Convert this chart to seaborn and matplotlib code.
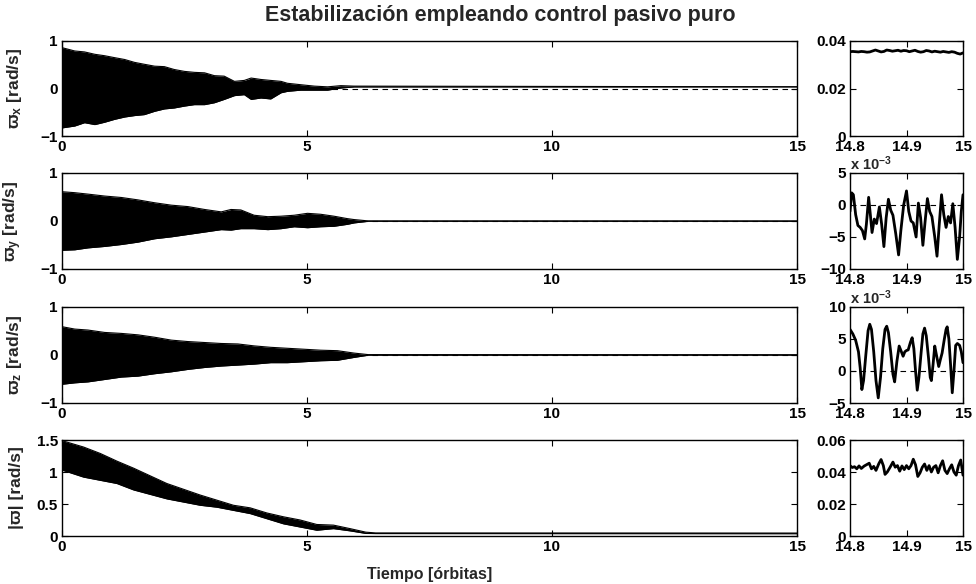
import matplotlib
matplotlib.use("Agg")
import matplotlib.pyplot as plt
import pandas as pd
import seaborn as sns

# ---- envelopes of the angular-velocity components over the full run [orbits, rad/s]
t_wx = [0.0, 0.26, 0.46, 0.67, 0.87, 1.07, 1.28, 1.48, 1.68, 1.89, 2.09, 2.29, 2.50, 2.70, 2.91,
        3.11, 3.31, 3.52, 3.72, 3.86, 4.06, 4.26, 4.47, 4.60, 4.87, 5.15, 5.42, 5.69, 5.96, 15.0]
wx_upper = [0.86, 0.79, 0.77, 0.72, 0.69, 0.65, 0.61, 0.55, 0.51, 0.47, 0.46, 0.40, 0.36, 0.34, 0.33,
            0.27, 0.26, 0.15, 0.17, 0.22, 0.19, 0.17, 0.15, 0.11, 0.08, 0.05, 0.035, 0.06, 0.05, 0.036]
wx_lower = [-0.83, -0.79, -0.72, -0.76, -0.71, -0.65, -0.60, -0.57, -0.55, -0.48, -0.43, -0.41, -0.37, -0.34, -0.34,
            -0.30, -0.23, -0.15, -0.13, -0.23, -0.20, -0.22, -0.09, -0.06, -0.035, -0.035, -0.035, 0.01, 0.033, 0.034]

t_wy = [0.0, 0.26, 0.53, 0.87, 1.21, 1.55, 1.89, 2.23, 2.57, 2.91, 3.25, 3.45, 3.65, 3.92, 4.20,
        4.47, 4.74, 5.01, 5.28, 5.55, 5.82, 5.96, 6.25, 15.0]
wy_upper = [0.61, 0.59, 0.56, 0.52, 0.49, 0.44, 0.38, 0.33, 0.30, 0.24, 0.19, 0.24, 0.23, 0.12, 0.09,
            0.10, 0.12, 0.16, 0.14, 0.10, 0.05, 0.03, 0.002, 0.002]
wy_lower = [-0.61, -0.60, -0.56, -0.53, -0.49, -0.44, -0.37, -0.33, -0.28, -0.23, -0.18, -0.19, -0.16, -0.16, -0.18,
            -0.16, -0.12, -0.14, -0.12, -0.11, -0.07, -0.04, -0.006, -0.006]

t_wz = [0.0, 0.26, 0.53, 0.87, 1.21, 1.55, 1.89, 2.23, 2.57, 2.91, 3.25, 3.59, 3.92, 4.26, 4.60,
        4.94, 5.28, 5.62, 5.96, 6.25, 15.0]
wz_upper = [0.59, 0.54, 0.52, 0.47, 0.45, 0.42, 0.37, 0.31, 0.28, 0.26, 0.24, 0.23, 0.19, 0.16, 0.14,
            0.12, 0.10, 0.09, 0.04, 0.008, 0.006]
wz_lower = [-0.61, -0.58, -0.56, -0.51, -0.46, -0.44, -0.39, -0.35, -0.30, -0.26, -0.23, -0.21, -0.19, -0.16, -0.16,
            -0.14, -0.12, -0.11, -0.05, -0.004, -0.003]

t_wn = [0.0, 0.44, 0.78, 1.12, 1.46, 1.80, 2.14, 2.48, 2.82, 3.16, 3.50, 3.84, 4.18, 4.52, 4.86,
        5.20, 5.54, 5.88, 6.20, 6.40, 15.0]
wn_upper = [1.49, 1.39, 1.29, 1.17, 1.06, 0.94, 0.82, 0.73, 0.64, 0.56, 0.48, 0.44, 0.36, 0.30, 0.25,
            0.18, 0.17, 0.115, 0.06, 0.048, 0.046]
wn_lower = [1.03, 0.92, 0.87, 0.82, 0.72, 0.65, 0.58, 0.53, 0.48, 0.45, 0.40, 0.35, 0.27, 0.19, 0.14,
            0.09, 0.115, 0.08, 0.04, 0.038, 0.036]

# ---- detail of the last 0.2 orbits
tz_wx = [14.800, 14.805, 14.810, 14.815, 14.820, 14.825, 14.830, 14.835, 14.840, 14.845, 14.850,
         14.855, 14.860, 14.865, 14.870, 14.875, 14.880, 14.885, 14.890, 14.895, 14.900, 14.905,
         14.910, 14.915, 14.920, 14.925, 14.930, 14.935, 14.940, 14.945, 14.950, 14.955, 14.960,
         14.965, 14.970, 14.975, 14.980, 14.985, 14.990, 14.995, 15.000]
wx_zoom = [0.0355, 0.0356, 0.0355, 0.0354, 0.0356, 0.0355, 0.0353, 0.0354, 0.0358, 0.0362, 0.0358,
           0.0354, 0.0356, 0.0362, 0.0360, 0.0357, 0.0359, 0.0361, 0.0357, 0.0360, 0.0359, 0.0355,
           0.0358, 0.0361, 0.0356, 0.0353, 0.0355, 0.0360, 0.0358, 0.0354, 0.0357, 0.0355, 0.0353,
           0.0356, 0.0354, 0.0352, 0.0355, 0.0353, 0.0348, 0.0345, 0.0350]

tz_wy = [14.800, 14.803, 14.806, 14.810, 14.814, 14.818, 14.822, 14.826, 14.829, 14.833, 14.836,
         14.839, 14.843, 14.847, 14.852, 14.856, 14.860, 14.864, 14.868, 14.872, 14.876, 14.881,
         14.886, 14.890, 14.895, 14.900, 14.904, 14.908, 14.912, 14.917, 14.921, 14.925, 14.929,
         14.933, 14.937, 14.941, 14.945, 14.950, 14.954, 14.958, 14.962, 14.966, 14.970, 14.974,
         14.978, 14.982, 14.986, 14.990, 14.994, 14.997, 15.000]
wy_zoom_milli = [-1.0, 1.9, 1.6, -1.5, -3.2, -3.5, -4.0, -5.3, -3.0, 1.2, -1.5,
                 -4.3, -2.2, -2.9, -0.3, -3.0, -6.5, -2.0, 0.9, -0.8, -1.6, -4.5,
                 -7.8, -4.0, 0.0, 2.2, -1.0, -2.5, -2.8, -5.0, 0.3, -2.0, -6.3,
                 -2.5, 1.0, -1.0, -1.8, -5.0, -8.0, -3.0, 1.6, -1.5, -3.5, -1.8,
                 -2.8, 0.2, -3.5, -8.5, -5.0, -1.0, 1.6]

tz_wz = [14.800, 14.805, 14.810, 14.815, 14.818, 14.821, 14.824, 14.828, 14.832, 14.835, 14.838,
         14.842, 14.846, 14.850, 14.854, 14.858, 14.862, 14.865, 14.868, 14.872, 14.876, 14.879,
         14.883, 14.887, 14.891, 14.894, 14.897, 14.900, 14.903, 14.907, 14.910, 14.913, 14.916,
         14.919, 14.922, 14.926, 14.929, 14.932, 14.935, 14.939, 14.942, 14.944, 14.947, 14.950,
         14.953, 14.957, 14.960, 14.963, 14.967, 14.970, 14.972, 14.975, 14.978, 14.981, 14.984,
         14.987, 14.990, 14.994, 14.997, 15.000]
wz_zoom_milli = [6.5, 5.8, 4.8, 3.0, 0.5, -2.9, -1.5, 2.5, 6.3, 7.3, 6.5,
                 3.0, -1.5, -4.2, -1.0, 3.5, 6.5, 7.0, 6.0, 3.0, -0.5, -1.7,
                 1.5, 3.9, 3.0, 2.3, 3.0, 3.2, 3.3, 4.5, 5.2, 3.5, 0.0,
                 -3.0, -1.0, 3.0, 5.8, 6.7, 5.5, 2.0, -1.0, -1.5, 1.0, 3.9,
                 2.5, 0.7, 1.8, 2.8, 5.0, 6.5, 6.9, 5.0, 1.0, -3.4, 0.0,
                 4.0, 4.3, 4.0, 3.0, 1.3]

tz_wn = [14.800, 14.804, 14.808, 14.812, 14.816, 14.820, 14.825, 14.830, 14.834, 14.838, 14.842,
         14.846, 14.851, 14.855, 14.859, 14.862, 14.866, 14.871, 14.876, 14.880, 14.884, 14.888,
         14.892, 14.896, 14.900, 14.904, 14.908, 14.912, 14.916, 14.920, 14.924, 14.928, 14.932,
         14.936, 14.940, 14.944, 14.948, 14.952, 14.956, 14.960, 14.964, 14.968, 14.972, 14.976,
         14.980, 14.984, 14.988, 14.992, 14.996, 15.000]
wn_zoom = [0.0440, 0.0428, 0.0433, 0.0420, 0.0438, 0.0422, 0.0437, 0.0447, 0.0455, 0.0420, 0.0435,
           0.0410, 0.0452, 0.0478, 0.0440, 0.0385, 0.0400, 0.0430, 0.0462, 0.0430, 0.0440, 0.0405,
           0.0438, 0.0415, 0.0440, 0.0420, 0.0440, 0.0480, 0.0445, 0.0372, 0.0395, 0.0430, 0.0450,
           0.0410, 0.0440, 0.0400, 0.0430, 0.0440, 0.0395, 0.0440, 0.0470, 0.0410, 0.0390, 0.0420,
           0.0445, 0.0400, 0.0380, 0.0440, 0.0475, 0.0380]

main_xticks = [0, 5, 10, 15]
zoom_xticks = [14.8, 14.9, 15.0]
zoom_xticklabels = ["14.8", "14.9", "15"]

sns.set_theme(style="ticks")
plt.rcParams["font.family"] = ["Liberation Sans", "DejaVu Sans"]
plt.rcParams["font.weight"] = "bold"
plt.rcParams["axes.labelweight"] = "bold"
plt.rcParams["mathtext.fontset"] = "custom"
plt.rcParams["mathtext.bf"] = "Liberation Sans:bold"
plt.rcParams["mathtext.rm"] = "Liberation Sans:bold"
plt.rcParams["mathtext.default"] = "bf"
plt.rcParams["axes.unicode_minus"] = True

W, H = 976, 584
fig = plt.figure(figsize=(W / 100, H / 100), dpi=100)

rows_px = [(41, 136), (173, 269), (307, 403), (440, 536)]
main_l, main_r = 62, 797
zoom_l, zoom_r = 850, 963
TICK_FS = 11


def make_axes(l, r, top, bot):
    return fig.add_axes([l / W, 1 - bot / H, (r - l) / W, (bot - top) / H])


def style(ax):
    for s in ax.spines.values():
        s.set_linewidth(1.0)
        s.set_color("black")
    ax.tick_params(direction="in", top=True, right=True, length=4, width=0.8,
                   labelsize=TICK_FS, pad=3, colors="black")
    for lab in ax.get_xticklabels() + ax.get_yticklabels():
        lab.set_fontweight("bold")


envelopes = [
    (t_wx, wx_upper, wx_lower),
    (t_wy, wy_upper, wy_lower),
    (t_wz, wz_upper, wz_lower),
    (t_wn, wn_upper, wn_lower),
]
ylabels = [r"ϖ$_{\mathbf{x}}$ [rad/s]", r"ϖ$_{\mathbf{y}}$ [rad/s]",
           r"ϖ$_{\mathbf{z}}$ [rad/s]", "|ϖ| [rad/s]"]

for i, ((top, bot), (t, up, lo)) in enumerate(zip(rows_px, envelopes)):
    ax = make_axes(main_l, main_r, top, bot)
    df = pd.DataFrame({"t": t, "upper": up, "lower": lo})
    if i < 3:
        ax.axhline(0, color="black", lw=0.8, ls=(0, (5, 4)), zorder=1)
    ax.fill_between(df["t"], df["lower"], df["upper"], color="black", lw=0, zorder=2)
    sns.lineplot(data=df, x="t", y="upper", ax=ax, color="black", lw=0.8,
                 sort=False, estimator=None, zorder=3)
    sns.lineplot(data=df, x="t", y="lower", ax=ax, color="black", lw=0.8,
                 sort=False, estimator=None, zorder=3)
    ax.set_xlim(0, 15)
    ax.set_xticks(main_xticks)
    ax.set_xticklabels([str(v) for v in main_xticks])
    if i < 3:
        ax.set_ylim(-1, 1)
        ax.set_yticks([-1, 0, 1])
        ax.set_yticklabels(["\u22121", "0", "1"])
    else:
        ax.set_ylim(0, 1.5)
        ax.set_yticks([0, 0.5, 1, 1.5])
        ax.set_yticklabels(["0", "0.5", "1", "1.5"])
    ax.set_xlabel("")
    ax.set_ylabel(ylabels[i], fontsize=12.5, fontweight="bold")
    ax.yaxis.set_label_coords(-0.052, 0.5)
    style(ax)
    if i == 3:
        ax.set_xlabel("Tiempo [órbitas]", fontsize=11.5, fontweight="bold", labelpad=9)

zooms = [
    (tz_wx, wx_zoom, (0, 0.04), [0, 0.02, 0.04], ["0", "0.02", "0.04"], False, False),
    (tz_wy, wy_zoom_milli, (-10, 5), [-10, -5, 0, 5], ["\u221210", "\u22125", "0", "5"], True, True),
    (tz_wz, wz_zoom_milli, (-5, 10), [-5, 0, 5, 10], ["\u22125", "0", "5", "10"], True, True),
    (tz_wn, wn_zoom, (0, 0.06), [0, 0.02, 0.04, 0.06], ["0", "0.02", "0.04", "0.06"], False, False),
]

for (top, bot), (t, v, ylim, yt, ytl, zero_line, milli) in zip(rows_px, zooms):
    ax = make_axes(zoom_l, zoom_r, top, bot)
    if zero_line:
        ax.axhline(0, color="black", lw=0.8, ls=(0, (5, 4)), zorder=1)
    sns.lineplot(x=t, y=v, ax=ax, color="black", lw=2.0, sort=False, estimator=None, zorder=3)
    ax.set_xlim(14.8, 15.0)
    ax.set_ylim(*ylim)
    ax.set_xticks(zoom_xticks)
    ax.set_xticklabels(zoom_xticklabels)
    ax.set_yticks(yt)
    ax.set_yticklabels(ytl)
    ax.set_xlabel("")
    ax.set_ylabel("")
    style(ax)
    if milli:
        ax.text(0.0, 1.0, r"x 10$^{-3}$", transform=ax.transAxes, ha="left", va="bottom",
                fontsize=10.5, fontweight="bold")

fig.text(500 / W, 1 - 15 / H, "Estabilización empleando control pasivo puro",
         ha="center", va="center", fontsize=15.5, fontweight="bold")

fig.savefig("out.png", dpi=100)
